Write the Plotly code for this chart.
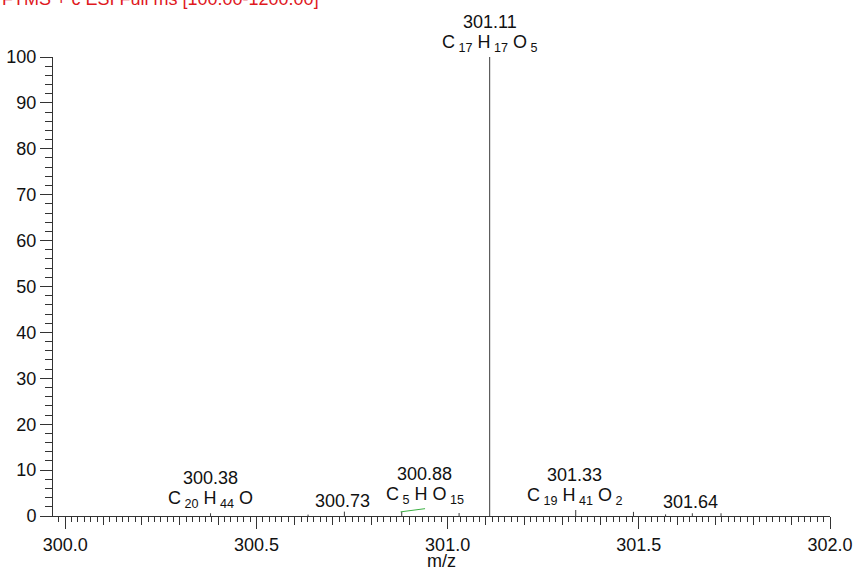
import plotly.graph_objects as go

# ---- data ----
peak_mz = [300.38, 300.635, 300.73, 300.88, 301.03, 301.11, 301.335, 301.486, 301.57, 301.64, 301.715]
peak_int = [0.6, 0.3, 0.95, 0.9, 0.65, 100.0, 1.3, 0.9, 0.35, 0.6, 0.6]

profile_mz = [300.877, 300.941]
profile_int = [0.9, 1.6]

label_mz = [300.38, 300.725, 300.94, 301.11, 301.333, 301.636]
label_int = [0.6, 0.95, 1.6, 100.0, 1.3, 0.6]
label_text = ["300.38", "300.73", "300.88", "301.11", "301.33", "301.64"]
label_formula = [
    "C<sub> 20</sub> H<sub> 44</sub> O",
    "",
    "C<sub> 5</sub> H O<sub> 15</sub>",
    "C<sub> 17</sub> H<sub> 17</sub> O<sub> 5</sub>",
    "C<sub> 19</sub> H<sub> 41</sub> O<sub> 2</sub>",
    "",
]

x_range = [299.968, 302.0]
y_range = [0, 100]
title_text = "FTMS + c ESI Full ms [100.00-1200.00]"
x_title = "m/z"

FONT = "Liberation Sans, Arial, sans-serif"
AXC = "#333333"
TXT = "#111111"

# ---- build stick spectrum ----
sx, sy = [], []
for m, h in zip(peak_mz, peak_int):
    sx += [m, m, None]
    sy += [0, h, None]

fig = go.Figure()
fig.add_trace(go.Scatter(x=sx, y=sy, mode="lines",
                         line=dict(color="#3c3c3c", width=1),
                         hoverinfo="skip", showlegend=False))
fig.add_trace(go.Scatter(x=profile_mz, y=profile_int, mode="lines",
                         line=dict(color="#3cb043", width=1),
                         hoverinfo="skip", showlegend=False))
# invisible trace for the medium-tick overlay axis
fig.add_trace(go.Scatter(x=x_range, y=[0, 0], mode="lines", xaxis="x2",
                         line=dict(width=0), opacity=0,
                         hoverinfo="skip", showlegend=False))

for m, h, t, f in zip(label_mz, label_int, label_text, label_formula):
    if f:
        fig.add_annotation(x=m, y=h, xref="x", yref="y", text=f,
                           showarrow=False, xanchor="center", yanchor="bottom",
                           yshift=0, font=dict(family=FONT, size=18, color=TXT))
        fig.add_annotation(x=m, y=h, xref="x", yref="y", text=t,
                           showarrow=False, xanchor="center", yanchor="bottom",
                           yshift=23, font=dict(family=FONT, size=18, color=TXT))
    else:
        fig.add_annotation(x=m, y=h, xref="x", yref="y", text=t,
                           showarrow=False, xanchor="center", yanchor="bottom",
                           yshift=-1, font=dict(family=FONT, size=18, color=TXT))

fig.add_annotation(x=0, y=1, xref="paper", yref="paper", text=title_text,
                   showarrow=False, xanchor="left", yanchor="middle",
                   xshift=-53, yshift=58,
                   font=dict(family=FONT, size=18, color="#e0191e"))

fig.update_layout(
    width=856, height=571,
    margin=dict(l=53, r=26, t=57, b=55, pad=0, autoexpand=False),
    paper_bgcolor="white", plot_bgcolor="white",
    font=dict(family=FONT, size=18, color=TXT),
    xaxis=dict(range=x_range, showline=True, linecolor=AXC, linewidth=1,
               automargin=False,
               ticks="outside", ticklen=12, tickwidth=1, tickcolor=AXC,
               tick0=300, dtick=0.5, tickformat=".1f",
               minor=dict(tick0=300, dtick=1/60, ticks="outside", ticklen=5,
                          tickcolor=AXC, tickwidth=1, showgrid=False),
               showgrid=False, zeroline=False,
               title=dict(text=x_title, standoff=10,
                          font=dict(family=FONT, size=18)),
               tickfont=dict(family=FONT, size=18)),
    xaxis2=dict(range=x_range, overlaying="x", anchor="y", side="bottom",
                automargin=False,
                ticks="outside", ticklen=8, tickwidth=1, tickcolor=AXC,
                tick0=300, dtick=0.1, showticklabels=False, showline=False,
                showgrid=False, zeroline=False),
    yaxis=dict(range=y_range, showline=True, linecolor=AXC, linewidth=1,
               automargin=False,
               ticks="outside", ticklen=12, tickwidth=1, tickcolor=AXC,
               tick0=0, dtick=10,
               minor=dict(tick0=0, dtick=2, ticks="outside", ticklen=7,
                          tickcolor=AXC, tickwidth=1, showgrid=False),
               showgrid=False, zeroline=False,
               tickfont=dict(family=FONT, size=18)),
)

# remove the browser's default 8px body margin so the figure sits at (0, 0)
fig.write_html("out.html",
               config={"displayModeBar": False, "staticPlot": True},
               post_script="document.body.style.margin='0';"
                           "document.documentElement.style.overflow='hidden';")
